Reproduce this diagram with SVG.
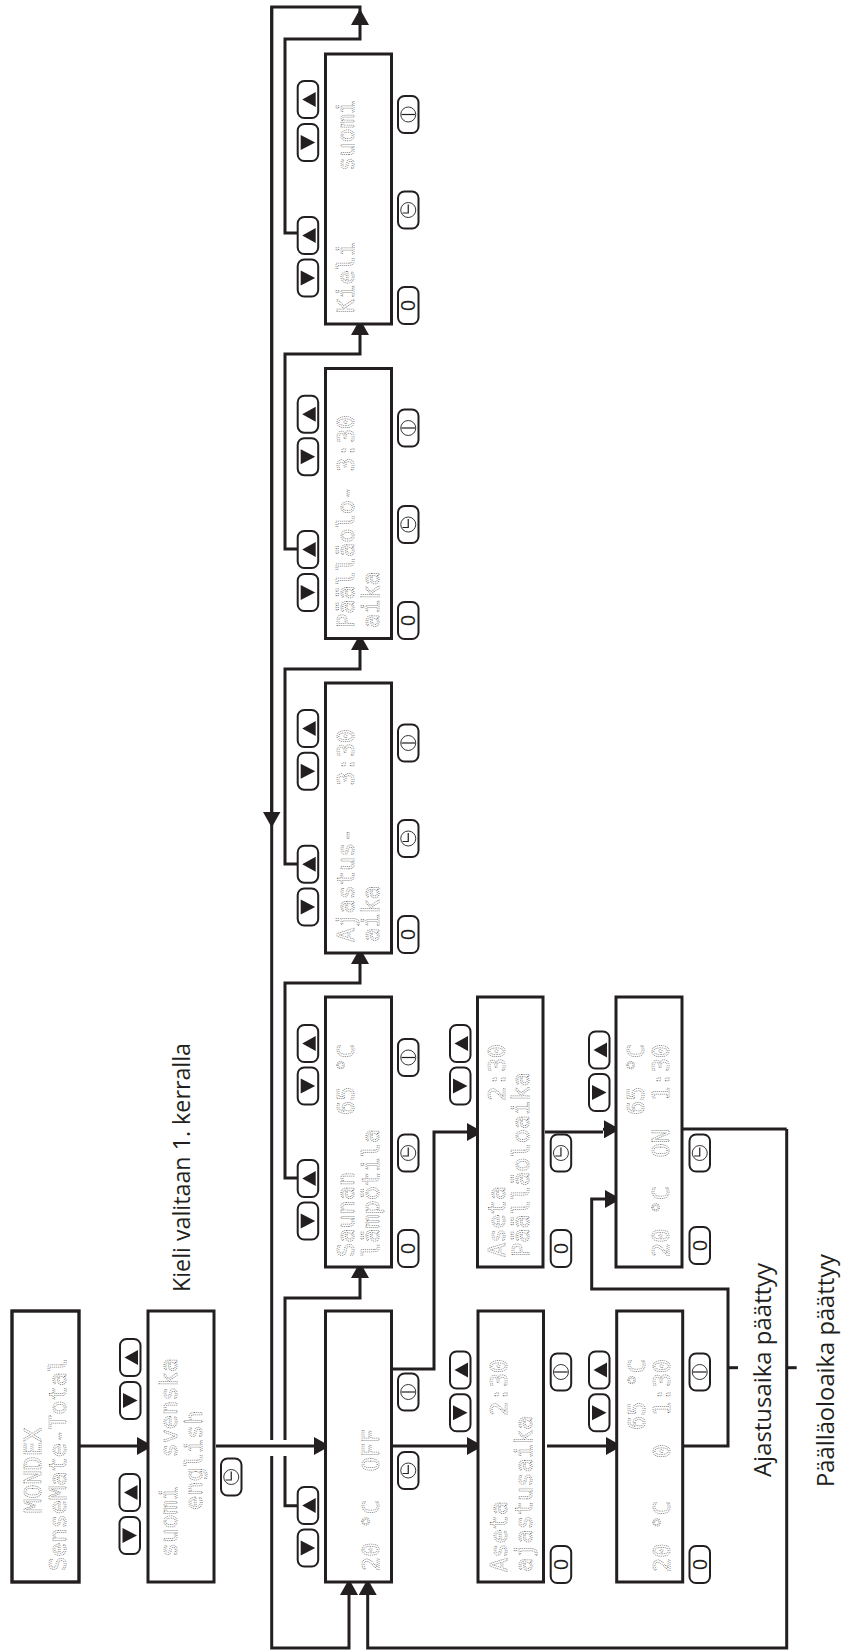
<svg xmlns="http://www.w3.org/2000/svg" width="842" height="1650" viewBox="0 0 842 1650">
<style>
.bg{fill:#fff}
.box{fill:#fff;stroke:#231f20;stroke-width:3}
.lcd{font-family:"DejaVu Sans Mono","Liberation Mono",monospace;font-size:23.6px;fill:none;stroke:#444;stroke-width:.75;stroke-dasharray:.8 1.2;white-space:pre}
.btn{fill:#fff;stroke:#231f20;stroke-width:2}
.tri{fill:#231f20}
.dial{fill:none;stroke:#231f20;stroke-width:.9}
.zero{font-family:"Liberation Sans",Arial,sans-serif;font-size:20px;fill:#231f20;text-anchor:middle}
.lab{font-family:"Open Sans","Noto Sans",sans-serif;font-size:24px;fill:#231f20}
.con{fill:none;stroke:#231f20;stroke-width:3}
</style>
<defs>
<marker id="arr" markerUnits="userSpaceOnUse" markerWidth="16" markerHeight="18" refX="13" refY="9" orient="auto"><path d="M0,0L16,9L0,18z" fill="#231f20"/></marker>
<g id="bL"><rect class="btn" width="20.5" height="37" rx="6.5"/><polygon class="tri" points="4.5,18.5 18,11 18,26"/></g>
<g id="bR"><rect class="btn" width="20.5" height="37" rx="6.5"/><polygon class="tri" points="3,11 3,26 17.5,18.5"/></g>
<g id="bC"><rect class="btn" width="20.5" height="37" rx="6.5"/><circle class="dial" cx="10.25" cy="18.5" r="7.5"/><path class="dial" style="stroke-width:1.2" d="M10.25,13V21.5H4.5"/></g>
<g id="bM"><rect class="btn" width="20.5" height="37" rx="6.5"/><circle class="dial" cx="10.25" cy="18.5" r="7.5"/><path class="dial" style="stroke-width:1.2" d="M3.5,18.5H17"/></g>
<rect id="bZ" class="btn" width="20.5" height="37" rx="6.5"/>
</defs>
<rect class="bg" width="842" height="1650"/>

<g id="connectors">
<path class="con" d="M79,1446H150" marker-end="url(#arr)"/>
<path class="con" d="M216,1446H327" marker-end="url(#arr)"/>
<path class="con" d="M392,1446H480" marker-end="url(#arr)"/>
<path class="con" d="M547,1446H619" marker-end="url(#arr)"/>
<path class="con" d="M271.7,1440V7H360V20"/>
<path class="con" d="M271.7,7V824.5" marker-end="url(#arr)"/>
<path class="con" d="M271.7,1456V1648H349V1582" marker-end="url(#arr)"/>
<path class="con" d="M786.7,1129V1648H367.7V1582" marker-end="url(#arr)"/>
<path class="con" d="M682,1129H786.7"/>
<path class="con" d="M786.7,1367.7H796.7"/>
<path class="con" d="M728,1367.7H738"/>
<path class="con" d="M683,1446H728V1289H591.7V1199H618" marker-end="url(#arr)"/>
<path class="con" d="M392,1369H434V1132H480" marker-end="url(#arr)"/>
<path class="con" d="M545,1132H603"/>
<path class="con" d="M603,1129.3H617" marker-end="url(#arr)"/>
<path class="con" d="M297,1505.7H285V1456"/>
<path class="con" d="M285,1440V1298H360V1265" marker-end="url(#arr)"/>
<path class="con" d="M297,1178H285V983H360V951" marker-end="url(#arr)"/>
<path class="con" d="M297,864H285V669H360V637" marker-end="url(#arr)"/>
<path class="con" d="M297,549H285V354H360V322" marker-end="url(#arr)"/>
<path class="con" d="M297,233H285V39H360V12" marker-end="url(#arr)"/>
</g>

<g id="node-mondex">
<rect class="box" style="stroke-width:3.4" x="12" y="1311" width="67" height="271"/>
<text class="lcd" transform="translate(40.7 1513) rotate(-90)">MONDEX</text>
<text class="lcd" transform="translate(66 1571) rotate(-90)">SenseMate-Total</text>
</g>

<g id="node-language">
<rect class="box" x="148" y="1311" width="66" height="271"/>
<text class="lcd" transform="translate(177 1557) rotate(-90)">suomi  svenska</text>
<text class="lcd" transform="translate(201.5 1510) rotate(-90)">english</text>
<use href="#bL" x="120" y="1339"/><use href="#bR" x="120" y="1382"/>
<use href="#bL" x="119.5" y="1474"/><use href="#bR" x="119.5" y="1517"/>
<use href="#bC" x="221" y="1458.5"/>
</g>

<g id="node-main">
<rect class="box" x="325.5" y="1311" width="66" height="271"/>
<text class="lcd" transform="translate(379 1571) rotate(-90)">20 °C  OFF</text>
<use href="#bL" x="297.7" y="1487"/><use href="#bR" x="297.7" y="1529.5"/>
<use href="#bC" x="398" y="1452"/><use href="#bM" x="398" y="1373.5"/>
</g>

<g id="node-sauna">
<rect class="box" x="325.5" y="997" width="66" height="270"/>
<text class="lcd" transform="translate(354 1257) rotate(-90)">Saunan    65 °C</text>
<text class="lcd" transform="translate(378.7 1257) rotate(-90)">lämpötila</text>
<use href="#bL" x="297.7" y="1025"/><use href="#bR" x="297.7" y="1067.5"/>
<use href="#bL" x="297.7" y="1160"/><use href="#bR" x="297.7" y="1202.5"/>
<use href="#bM" x="398" y="1039"/><use href="#bC" x="398" y="1134.5"/><use href="#bZ" x="398" y="1230"/>
<text class="zero" transform="translate(415.2 1248.5) rotate(-90)">0</text>
</g>

<g id="node-ajastus">
<rect class="box" x="325.5" y="683" width="66" height="270"/>
<text class="lcd" transform="translate(354 942) rotate(-90)">Ajastus-   3:30</text>
<text class="lcd" transform="translate(378.7 942) rotate(-90)">aika</text>
<use href="#bL" x="297.7" y="710"/><use href="#bR" x="297.7" y="752.7"/>
<use href="#bL" x="297.7" y="845.7"/><use href="#bR" x="297.7" y="888.5"/>
<use href="#bM" x="398" y="724.5"/><use href="#bC" x="398" y="820"/><use href="#bZ" x="398" y="916"/>
<text class="zero" transform="translate(415.2 934.5) rotate(-90)">0</text>
</g>

<g id="node-paallaolo">
<rect class="box" x="325.5" y="368.5" width="66" height="270"/>
<text class="lcd" transform="translate(354 628) rotate(-90)">Päälläolo- 3:30</text>
<text class="lcd" transform="translate(378.7 628) rotate(-90)">aika</text>
<use href="#bL" x="297.7" y="395.7"/><use href="#bR" x="297.7" y="438.2"/>
<use href="#bL" x="297.7" y="531"/><use href="#bR" x="297.7" y="574"/>
<use href="#bM" x="398" y="409.5"/><use href="#bC" x="398" y="506"/><use href="#bZ" x="398" y="602"/>
<text class="zero" transform="translate(415.2 620.5) rotate(-90)">0</text>
</g>

<g id="node-kieli">
<rect class="box" x="325.5" y="54" width="66" height="270"/>
<text class="lcd" transform="translate(354 313) rotate(-90)">Kieli     suomi</text>
<use href="#bL" x="297.7" y="81"/><use href="#bR" x="297.7" y="124"/>
<use href="#bL" x="297.7" y="217"/><use href="#bR" x="297.7" y="259.5"/>
<use href="#bM" x="398" y="96"/><use href="#bC" x="398" y="191.5"/><use href="#bZ" x="398" y="287"/>
<text class="zero" transform="translate(415.2 305.5) rotate(-90)">0</text>
</g>

<g id="node-aseta-ajastus">
<rect class="box" x="478" y="1311" width="65.5" height="271"/>
<text class="lcd" transform="translate(507 1572) rotate(-90)">Aseta      2:30</text>
<text class="lcd" transform="translate(532 1572) rotate(-90)">ajastusaika</text>
<use href="#bL" x="450" y="1351.5"/><use href="#bR" x="450" y="1394.3"/>
<use href="#bM" x="550.7" y="1353.5"/><use href="#bZ" x="550.7" y="1546"/>
<text class="zero" transform="translate(568 1564.5) rotate(-90)">0</text>
</g>

<g id="node-waiting">
<rect class="box" x="616.7" y="1311" width="66" height="271"/>
<text class="lcd" transform="translate(645 1572) rotate(-90)">          65 °C</text>
<text class="lcd" transform="translate(670 1572) rotate(-90)">20 °C   0  1:30</text>
<use href="#bL" x="589" y="1351.5"/><use href="#bR" x="589" y="1394.3"/>
<use href="#bM" x="689.5" y="1353.5"/><use href="#bZ" x="689.5" y="1546"/>
<text class="zero" transform="translate(706.7 1564.5) rotate(-90)">0</text>
</g>

<g id="node-aseta-paalla">
<rect class="box" x="477.5" y="997" width="65.5" height="270"/>
<text class="lcd" transform="translate(505 1257) rotate(-90)">Aseta      2:30</text>
<text class="lcd" transform="translate(529 1257) rotate(-90)">Päälläoloaika</text>
<use href="#bL" x="450" y="1025"/><use href="#bR" x="450" y="1067.5"/>
<use href="#bC" x="550.7" y="1134.5"/><use href="#bZ" x="550.7" y="1230"/>
<text class="zero" transform="translate(568 1248.5) rotate(-90)">0</text>
</g>

<g id="node-on">
<rect class="box" x="616" y="997" width="66" height="270"/>
<text class="lcd" transform="translate(644 1257) rotate(-90)">          65 °C</text>
<text class="lcd" transform="translate(668.5 1257) rotate(-90)">20 °C  ON  1:30</text>
<use href="#bL" x="589" y="1031.5"/><use href="#bR" x="589" y="1074"/>
<use href="#bC" x="689.5" y="1134.5"/><use href="#bZ" x="689.5" y="1227"/>
<text class="zero" transform="translate(706.7 1245.5) rotate(-90)">0</text>
</g>

<g id="labels">
<text class="lab" transform="translate(190 1292) rotate(-90)" textLength="249" lengthAdjust="spacingAndGlyphs">Kieli valitaan 1. kerralla</text>
<text class="lab" transform="translate(771 1477) rotate(-90)" textLength="214" lengthAdjust="spacingAndGlyphs">Ajastusaika päättyy</text>
<text class="lab" transform="translate(834 1487) rotate(-90)" textLength="233" lengthAdjust="spacingAndGlyphs">Päälläoloaika päättyy</text>
</g>
</svg>
